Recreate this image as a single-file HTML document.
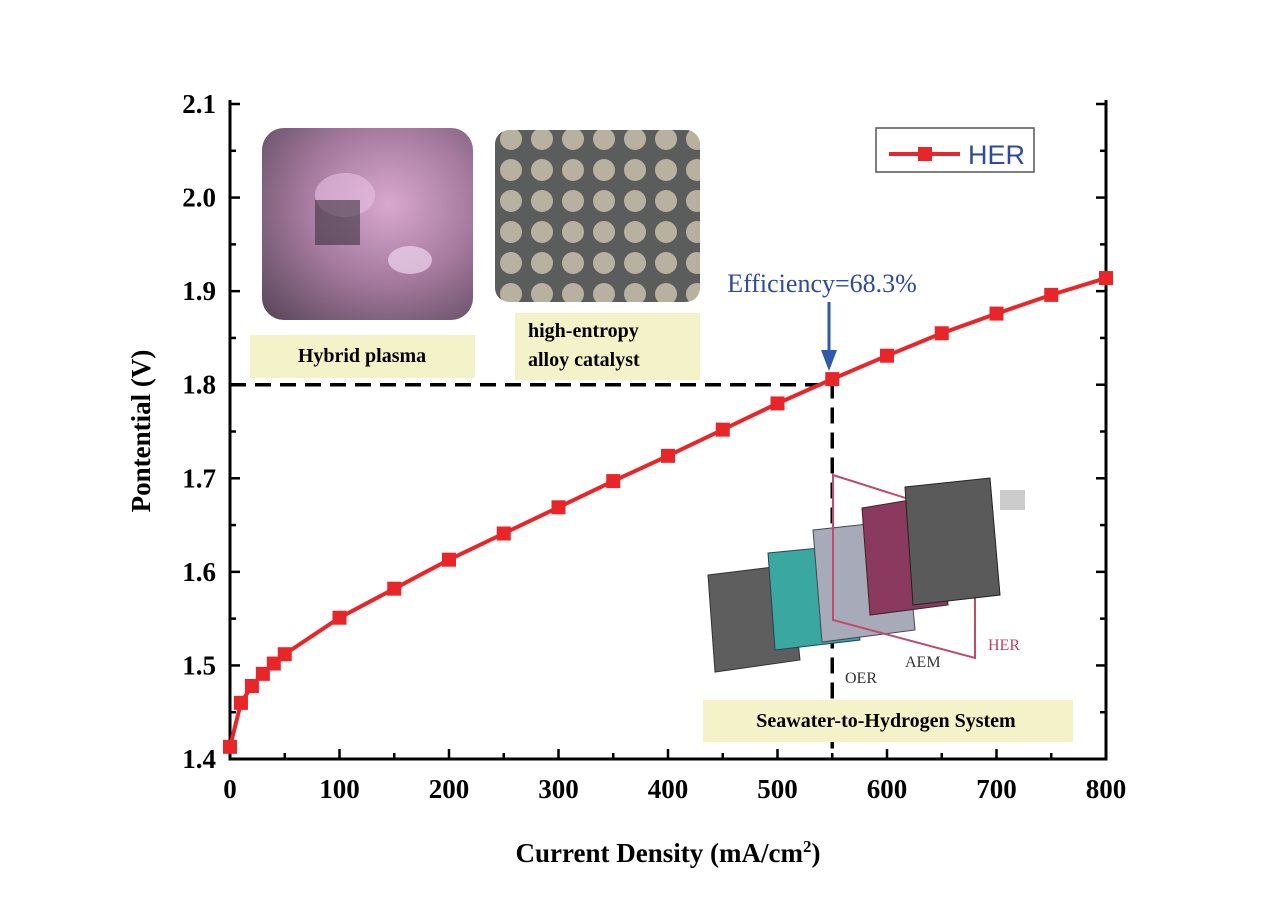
<!DOCTYPE html>
<html><head><meta charset="utf-8"><style>
body{margin:0;background:#fff;}
svg text{font-family:"Liberation Serif",serif;}
</style></head><body>
<svg width="1285" height="910" viewBox="0 0 1285 910" xmlns="http://www.w3.org/2000/svg">
<defs>
<radialGradient id="pl" cx="0.6" cy="0.4" r="0.8"><stop offset="0" stop-color="#d9a8cf"/><stop offset="0.5" stop-color="#a57a9e"/><stop offset="1" stop-color="#5e4a5e"/></radialGradient>
<pattern id="dots" width="31" height="31" patternUnits="userSpaceOnUse"><rect width="31" height="31" fill="#5b5d5c"/><circle cx="15" cy="15" r="11" fill="#b8b19f"/></pattern>
</defs>
<g id="axes"></g>
<g id="plot"></g>
<g>
<rect x="262" y="128" width="211" height="192" rx="22" fill="url(#pl)"/>
<ellipse cx="345" cy="195" rx="30" ry="22" fill="#e8c0e2" opacity="0.6"/>
<ellipse cx="410" cy="260" rx="22" ry="14" fill="#f0d5ee" opacity="0.7"/>
<rect x="315" y="200" width="45" height="45" fill="#3a3340" opacity="0.6"/>
</g>
<rect x="495" y="130" width="205" height="172" rx="14" fill="url(#dots)"/>
<rect x="250" y="335" width="225" height="43" fill="#f4f2c8"/>
<text x="362" y="362" text-anchor="middle" font-size="20" font-weight="bold">Hybrid plasma</text>
<rect x="515" y="313" width="185" height="67" fill="#f4f2c8"/>
<text x="528" y="337" font-size="20" font-weight="bold">high-entropy</text>
<text x="528" y="366" font-size="20" font-weight="bold">alloy catalyst</text>
<g>
<polygon points="708,575 790,565 800,660 715,672" fill="#5e5e5e" stroke="#333"/>
<polygon points="768,553 850,545 860,640 775,650" fill="#3aa7a0" stroke="#245"/>
<polygon points="813,530 905,520 915,630 822,642" fill="#a7aab8" stroke="#445"/>
<polygon points="833,475 975,520 975,658 833,620" fill="none" stroke="#c04a6a" stroke-width="2"/>
<polygon points="862,508 940,495 948,605 870,615" fill="#8a3a5e" stroke="#422"/>
<polygon points="905,487 990,478 1000,595 913,605" fill="#5a5a5a" stroke="#222"/>
<rect x="1000" y="490" width="25" height="20" fill="#ccc"/>
<text x="988" y="650" font-size="16" fill="#c0405a">HER</text>
<text x="905" y="667" font-size="16" fill="#333">AEM</text>
<text x="845" y="683" font-size="16" fill="#333">OER</text>
</g>
<rect x="703" y="700" width="370" height="42" fill="#f4f2c8"/>
<text x="886" y="727" text-anchor="middle" font-size="20" font-weight="bold">Seawater-to-Hydrogen System</text>
<text x="822" y="292" text-anchor="middle" font-size="26" fill="#2e4a9e">Efficiency=68.3%</text>
<line x1="829" y1="302" x2="829" y2="355" stroke="#2e5aa8" stroke-width="3"/>
<polygon points="821,350 837,350 829,371" fill="#2e5aa8"/>
<g>
<rect x="876" y="128" width="158" height="44" fill="#fff" stroke="#555" stroke-width="1.5"/>
<line x1="889" y1="154" x2="960" y2="154" stroke="#e8262a" stroke-width="4"/>
<rect x="918" y="147" width="14" height="14" fill="#e8262a"/>
<text x="968" y="164" font-size="27" fill="#2e4a9e" style="font-family:'Liberation Sans',sans-serif">HER</text>
</g>
<text x="668" y="862" text-anchor="middle" font-size="27" font-weight="bold">Current Density (mA/cm<tspan dy="-10" font-size="17">2</tspan><tspan dy="10">)</tspan></text>
<text transform="translate(150,431) rotate(-90)" text-anchor="middle" font-size="27" font-weight="bold">Pontential (V)</text>
</svg>
<script>
const xs=[0,10,20,30,40,50,100,150,200,250,300,350,400,450,500,550,600,650,700,750,800];
const ys=[1.413,1.46,1.478,1.491,1.502,1.512,1.551,1.582,1.613,1.641,1.669,1.697,1.724,1.752,1.780,1.806,1.831,1.855,1.876,1.896,1.914];
const xTicks=[0,100,200,300,400,500,600,700,800];
const yTicks=[1.4,1.5,1.6,1.7,1.8,1.9,2.0,2.1];
const refX=550, refY=1.8;
const X0=230,X1=1106,Y0=759,Y1=104;
const sx=v=>X0+(v-0)/(800)*(X1-X0);
const sy=v=>Y0-(v-1.4)/(0.7)*(Y0-Y1);
const NS="http://www.w3.org/2000/svg";
function mk(t,a,p){const e=document.createElementNS(NS,t);for(const k in a)e.setAttribute(k,a[k]);p.appendChild(e);return e;}
const ax=document.getElementById('axes'),pl=document.getElementById('plot');
let e;
e=mk('path',{d:`M${X0},${Y1-4}V${Y0}H${X1}V${Y1-4}`,fill:'none',stroke:'#000','stroke-width':3},ax);

xTicks.forEach((t,i)=>{const x=sx(t);
 mk('line',{x1:x,y1:Y0,x2:x,y2:Y0-10,stroke:'#000','stroke-width':2.5},ax);
 if(i<xTicks.length-1){const m=sx(t+50);mk('line',{x1:m,y1:Y0,x2:m,y2:Y0-6,stroke:'#000','stroke-width':2.5},ax);}
 e=mk('text',{x:x,y:Y0+39,'text-anchor':'middle','font-size':27,'font-weight':'bold'},ax);e.textContent=t;
 
});
yTicks.forEach((t,i)=>{const y=sy(t);
 mk('line',{x1:X0,y1:y,x2:X0+10,y2:y,stroke:'#000','stroke-width':2.5},ax);
 mk('line',{x1:X1,y1:y,x2:X1-10,y2:y,stroke:'#000','stroke-width':2.5},ax);
 if(i<yTicks.length-1){const m=sy(t+0.05);mk('line',{x1:X0,y1:m,x2:X0+6,y2:m,stroke:'#000','stroke-width':2.5},ax);mk('line',{x1:X1,y1:m,x2:X1-6,y2:m,stroke:'#000','stroke-width':2.5},ax);}
 e=mk('text',{x:X0-14,y:y+9,'text-anchor':'end','font-size':27,'font-weight':'bold'},ax);e.textContent=t.toFixed(1);
 
});
e=mk('path',{d:`M${X0},${sy(refY)}H${sx(refX)}V${Y0}`,fill:'none',stroke:'#000','stroke-width':3.5,'stroke-dasharray':'16,9'},pl);

e=mk('polyline',{points:xs.map((x,i)=>sx(x)+','+sy(ys[i])).join(' '),fill:'none',stroke:'#e8262a','stroke-width':4},pl);

xs.forEach((x,i)=>{e=mk('rect',{x:sx(x)-7,y:sy(ys[i])-7,width:14,height:14,fill:'#e8262a'},pl);
 });
</script>
</body></html>
